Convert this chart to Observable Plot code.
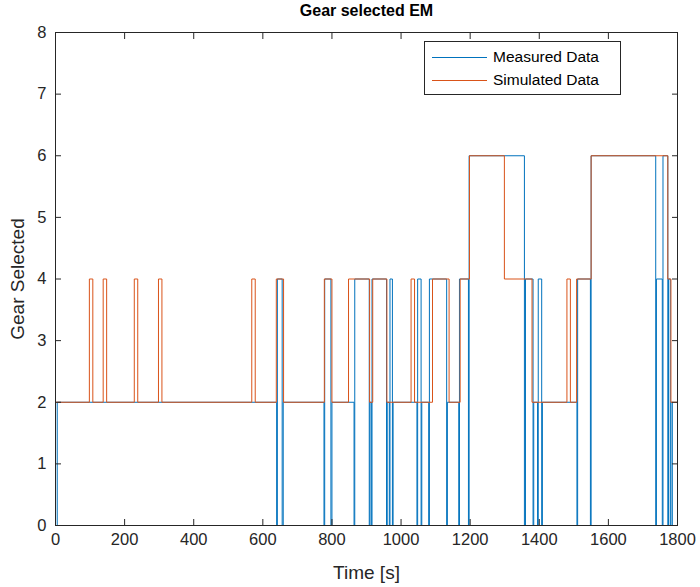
<!DOCTYPE html>
<html>
<head>
<meta charset="utf-8">
<script src="https://cdn.jsdelivr.net/npm/d3@7"></script>
<script src="https://cdn.jsdelivr.net/npm/@observablehq/plot@0.6"></script>
<style>
  body { margin: 0; background: #fff; }
  #wrap { position: relative; width: 700px; height: 587px; font-family: Helvetica, Arial, "Liberation Sans", sans-serif; }
  #wrap svg g[aria-label="x-axis tick label"], #wrap svg g[aria-label="y-axis tick label"] { font-size: 16.5px; }
  #wrap svg g[aria-label="x-axis label"], #wrap svg g[aria-label="y-axis label"] { font-size: 19px; }
  .legend { position: absolute; left: 424px; top: 41px; width: 197px; height: 54px; border: 1px solid #262626; background: #fff; box-sizing: border-box; }
  .legend .item { position: absolute; left: 0; height: 20px; width: 100%; }
  .legend .sw { position: absolute; left: 7px; width: 55px; top: 50%; height: 0; border-top: 1px solid; }
  .legend .lab { position: absolute; left: 68px; top: 0; line-height: 20px; font-size: 15.5px; color: #000; white-space: nowrap; }
</style>
</head>
<body>
<div id="wrap"></div>
<script>
// Measured gear: time where a new gear value starts, and that gear
const measuredTime = [0, 5, 640, 642, 656, 659, 777, 779, 797, 800, 864, 866, 908, 910, 914, 916, 958, 960, 966, 968, 975, 977, 1046, 1048, 1058, 1060, 1080, 1082, 1132, 1134, 1167, 1169, 1195, 1197, 1357, 1360, 1382, 1384, 1395, 1397, 1407, 1409, 1509, 1511, 1548, 1550, 1737, 1739, 1756, 1758, 1772, 1774, 1779, 1781, 1785, 1800];
const measuredGear = [0, 2, 0, 4, 0, 2, 0, 4, 0, 2, 0, 4, 0, 2, 0, 4, 0, 2, 0, 4, 0, 2, 0, 4, 0, 2, 0, 4, 0, 2, 0, 4, 0, 6, 0, 4, 0, 2, 0, 4, 0, 2, 0, 4, 0, 6, 0, 4, 0, 6, 0, 4, 0, 2, 0, 0];

// Simulated gear
const simulatedTime = [0, 98, 108, 138, 148, 228, 238, 298, 308, 568, 578, 639, 660, 778, 800, 848, 909, 918, 959, 1029, 1039, 1091, 1139, 1171, 1198, 1299, 1379, 1480, 1490, 1508, 1550, 1772, 1781, 1800];
const simulatedGear = [2, 4, 2, 4, 2, 4, 2, 4, 2, 4, 2, 4, 2, 4, 2, 4, 2, 4, 2, 4, 2, 4, 2, 4, 6, 4, 2, 4, 2, 4, 6, 4, 2, 2];

const seriesNames = ["Measured Data", "Simulated Data"];
const seriesColors = ["#0072BD", "#D95319"];
const xTicks = [0, 200, 400, 600, 800, 1000, 1200, 1400, 1600, 1800];
const yTicks = [0, 1, 2, 3, 4, 5, 6, 7, 8];
const titleText = "Gear selected EM";
const xLabel = "Time [s]";
const yLabel = "Gear Selected";

const measured = measuredTime.map((t, i) => ({t, g: measuredGear[i], s: seriesNames[0]}));
const simulated = simulatedTime.map((t, i) => ({t, g: simulatedGear[i], s: seriesNames[1]}));

const axisColor = "#262626";
const fmt = d => String(d);

const plot = Plot.plot({
  width: 700,
  height: 587,
  marginLeft: 55,
  marginRight: 23,
  marginTop: 32,
  marginBottom: 62,
  style: { fontFamily: "Helvetica, Arial, 'Liberation Sans', sans-serif", fontSize: "15.5px", color: axisColor, background: "#fff" },
  x: { domain: [0, 1800] },
  y: { domain: [0, 8] },
  marks: [
    Plot.line(measured, { x: "t", y: "g", curve: "step-after", stroke: seriesColors[0], strokeWidth: 1 }),
    Plot.line(simulated, { x: "t", y: "g", curve: "step-after", stroke: seriesColors[1], strokeWidth: 1 }),
    Plot.frame({ stroke: axisColor, strokeWidth: 1 }),
    Plot.axisX({ ticks: xTicks, tickFormat: fmt, tickSize: -6, tickPadding: 14, stroke: axisColor, label: xLabel, labelAnchor: "center", labelArrow: "none", labelOffset: 53 }),
    Plot.axisX({ anchor: "top", ticks: xTicks, tickSize: -6, tickFormat: () => "", label: null, stroke: axisColor }),
    Plot.axisY({ ticks: yTicks, tickFormat: fmt, tickSize: -6, tickPadding: 15, stroke: axisColor, label: yLabel, labelAnchor: "center", labelArrow: "none", labelOffset: 45 }),
    Plot.axisY({ anchor: "right", ticks: yTicks, tickSize: -6, tickFormat: () => "", label: null, stroke: axisColor }),
    Plot.text([titleText], { text: d => d, frameAnchor: "top", lineAnchor: "middle", dy: -22, fontWeight: "bold", fontSize: 16, fill: "#000" })
  ]
});

const wrap = document.getElementById("wrap");
wrap.appendChild(plot);

// Legend
const legend = document.createElement("div");
legend.className = "legend";
seriesNames.forEach((name, i) => {
  const item = document.createElement("div");
  item.className = "item";
  item.style.top = (5 + i * 23) + "px";
  const sw = document.createElement("div");
  sw.className = "sw";
  sw.style.borderTopColor = seriesColors[i];
  const lab = document.createElement("div");
  lab.className = "lab";
  lab.textContent = name;
  item.appendChild(sw);
  item.appendChild(lab);
  legend.appendChild(item);
});
wrap.appendChild(legend);
</script>
</body>
</html>
